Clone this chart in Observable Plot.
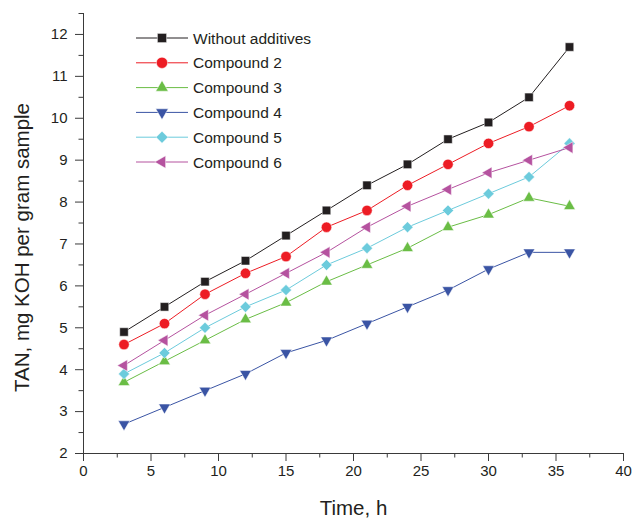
<!DOCTYPE html>
<html>
<head>
<meta charset="utf-8">
<script src="https://cdn.jsdelivr.net/npm/d3@7"></script>
<script src="https://cdn.jsdelivr.net/npm/@observablehq/plot@0.6"></script>
<style>
  html, body { margin: 0; padding: 0; background: #fff; }
</style>
</head>
<body>
<div id="chart"></div>
<script>
const hours = [3, 6, 9, 12, 15, 18, 21, 24, 27, 30, 33, 36];
const seriesNames = ["Without additives", "Compound 2", "Compound 3", "Compound 4", "Compound 5", "Compound 6"];
const withoutAdditives = [4.9, 5.5, 6.1, 6.6, 7.2, 7.8, 8.4, 8.9, 9.5, 9.9, 10.5, 11.7];
const compound2 = [4.6, 5.1, 5.8, 6.3, 6.7, 7.4, 7.8, 8.4, 8.9, 9.4, 9.8, 10.3];
const compound3 = [3.7, 4.2, 4.7, 5.2, 5.6, 6.1, 6.5, 6.9, 7.4, 7.7, 8.1, 7.9];
const compound4 = [2.7, 3.1, 3.5, 3.9, 4.4, 4.7, 5.1, 5.5, 5.9, 6.4, 6.8, 6.8];
const compound5 = [3.9, 4.4, 5.0, 5.5, 5.9, 6.5, 6.9, 7.4, 7.8, 8.2, 8.6, 9.4];
const compound6 = [4.1, 4.7, 5.3, 5.8, 6.3, 6.8, 7.4, 7.9, 8.3, 8.7, 9.0, 9.3];
const xTicks = [0, 5, 10, 15, 20, 25, 30, 35, 40];
const yTicks = [2, 3, 4, 5, 6, 7, 8, 9, 10, 11, 12];

const seriesValues = [withoutAdditives, compound2, compound3, compound4, compound5, compound6];
const colors = ["#231f20", "#ed1c24", "#6abd45", "#3a54a4", "#6ccbdc", "#b5529f"];
const symbols = ["square", "circle", "triangle", "triangle", "diamond2", "triangle"];
const rotations = [0, 0, 0, 180, 0, -90];
const radii = [4.8, 5.2, 4.3, 4.3, 5.0, 4.3];

const table = seriesNames.flatMap((name, i) =>
  hours.map((h, j) => ({series: name, idx: i, hour: h, tan: seriesValues[i][j]}))
);

const font = "'Liberation Sans', Arial, Helvetica, sans-serif";
const axisColor = "#3a3a3a";

const seriesMarks = seriesNames.flatMap((name, i) => {
  const d = table.filter(r => r.idx === i);
  return [
    Plot.line(d, {x: "hour", y: "tan", stroke: colors[i], strokeWidth: 1}),
    Plot.dot(d, {x: "hour", y: "tan", symbol: () => symbols[i], r: radii[i], rotate: rotations[i],
      fill: colors[i], stroke: "white", strokeWidth: 0.5})
  ];
});

const minorX = xTicks.slice(0, -1).map(t => t + 2.5);
const minorY = yTicks.map(t => t + 0.5);

const svg = Plot.plot({
  width: 633,
  height: 519,
  marginLeft: 83,
  marginRight: 10,
  marginTop: 13,
  marginBottom: 66,
  style: {fontFamily: font, fontSize: "15px", color: "#231f20", background: "white"},
  x: {domain: [0, 40]},
  y: {domain: [2, 12.5]},
  marks: [
    Plot.axisX({ticks: xTicks, tickSize: 8, tickPadding: 4, label: null, stroke: axisColor}),
    Plot.axisX({ticks: minorX, tickSize: 4.5, tickFormat: () => "", label: null, stroke: axisColor}),
    Plot.axisY({ticks: yTicks, tickSize: 8, tickPadding: 8, label: null, stroke: axisColor}),
    Plot.axisY({ticks: minorY, tickSize: 4.5, tickFormat: () => "", label: null, stroke: axisColor}),
    Plot.ruleX([0], {stroke: axisColor}),
    Plot.ruleY([2], {stroke: axisColor}),
    ...seriesMarks,
    Plot.text(["Time, h"], {frameAnchor: "bottom", dy: 55, fontSize: 20.5, lineAnchor: "middle",
      textAnchor: "middle", fill: "#231f20"}),
    Plot.text(["TAN, mg KOH per gram sample"], {frameAnchor: "left", rotate: -90, dx: -61, dy: 14,
      fontSize: 20.5, lineAnchor: "middle", textAnchor: "middle", fill: "#231f20"})
  ]
});

// Legend (line + marker swatches) drawn inside the plot area
const sel = d3.select(svg);
const lg = sel.append("g").attr("font-family", font).attr("font-size", "15.5px").attr("text-anchor", "start");
const symMap = {square: d3.symbolSquare, circle: d3.symbolCircle, triangle: d3.symbolTriangle, diamond2: d3.symbolDiamond2};
seriesNames.forEach((name, i) => {
  const y = 38 + i * 24.8;
  const g = lg.append("g").attr("transform", `translate(0,${y})`);
  g.append("line").attr("x1", 136).attr("x2", 188).attr("y1", 0).attr("y2", 0)
    .attr("stroke", colors[i]).attr("stroke-width", 1);
  g.append("path")
    .attr("d", d3.symbol(symMap[symbols[i]], Math.PI * (radii[i] * 1.08) ** 2)())
    .attr("transform", `translate(162,0) rotate(${rotations[i]})`)
    .attr("fill", colors[i]).attr("stroke", "white").attr("stroke-width", 0.5);
  g.append("text").attr("x", 193).attr("y", 0).attr("dy", "0.36em")
    .attr("text-anchor", "start").attr("fill", "#231f20").text(name);
});

document.getElementById("chart").appendChild(svg);
</script>
</body>
</html>
